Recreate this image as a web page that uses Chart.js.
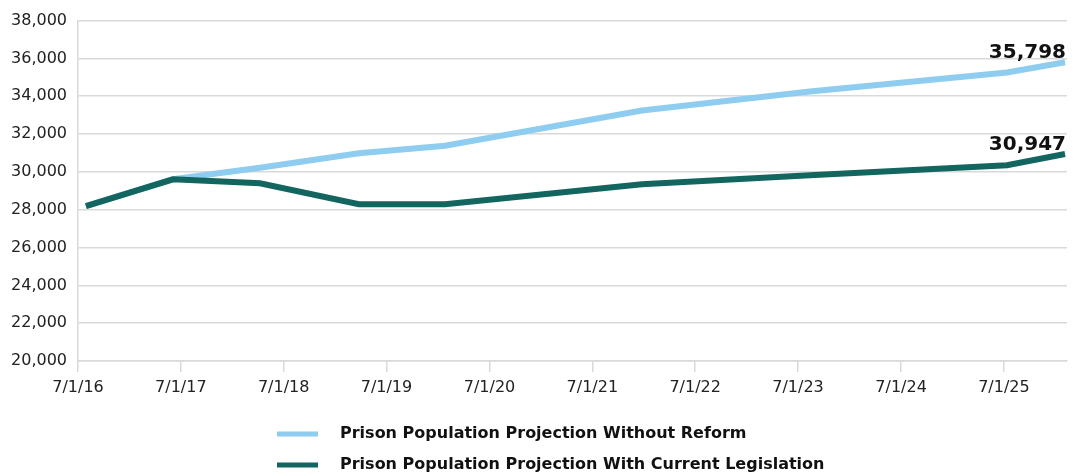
<!DOCTYPE html>
<html>
<head>
<meta charset="utf-8">
<script src="https://cdn.jsdelivr.net/npm/chart.js@4.4.1/dist/chart.umd.min.js"></script>
<style>
  html, body { margin: 0; padding: 0; background: #ffffff; }
  canvas { display: block; }
</style>
</head>
<body>
<canvas id="chart" width="1078" height="472"></canvas>
<script>
// Axis tick labels (dates, M/D/YY)
const tickLabels = ['7/1/16', '7/1/17', '7/1/18', '7/1/19', '7/1/20', '7/1/21', '7/1/22', '7/1/23', '7/1/24', '7/1/25'];

// Dates of the projection points
const pointDates = ['2016-07-29', '2017-06-03', '2018-04-08', '2019-03-25', '2020-01-25', '2021-12-24', '2023-08-12', '2025-07-12', '2026-02-03'];

// Projected prison population
const withoutReform      = [28190, 29610, 30220, 30980, 31380, 33250, 34250, 35260, 35798];
const currentLegislation = [28190, 29610, 29400, 28290, 28290, 29350, 29820, 30350, 30947];

const seriesNames = ['Prison Population Projection Without Reform', 'Prison Population Projection With Current Legislation'];
const axisStartLabel = '7/1/16';
const axisEndDate = '2026-02-10';

const DAY = 86400000;
function labelToUTC(s) { const [m, d, y] = s.split('/').map(Number); return Date.UTC(2000 + y, m - 1, d); }
function isoToUTC(s) { const [y, m, d] = s.split('-').map(Number); return Date.UTC(y, m - 1, d); }
const origin = labelToUTC(axisStartLabel);
const toDays = t => (t - origin) / DAY;
const tickDays = tickLabels.map(l => toDays(labelToUTC(l)));
const pointDays = pointDates.map(d => toDays(isoToUTC(d)));

const fmt = v => Number(v).toLocaleString('en-US');
const GRID = '#d9d9d9';
const TICK_FONT = { family: '"DejaVu Sans", sans-serif', size: 16 };

// Bold value label above the last point of each line
const endLabels = {
  id: 'endLabels',
  afterDatasetsDraw(chart) {
    const ctx = chart.ctx;
    ctx.save();
    ctx.font = 'bold 20px "DejaVu Sans", sans-serif';
    ctx.fillStyle = '#111111';
    ctx.textAlign = 'right';
    ctx.textBaseline = 'alphabetic';
    chart.data.datasets.forEach((ds, i) => {
      const meta = chart.getDatasetMeta(i);
      const last = meta.data[meta.data.length - 1];
      const value = ds.data[ds.data.length - 1].y;
      ctx.fillText(fmt(value), last.x + 1, last.y - 4);
    });
    ctx.restore();
  }
};

// Two-row legend under the plot
const stackedLegend = {
  id: 'stackedLegend',
  afterDraw(chart) {
    const ctx = chart.ctx;
    const left = 277;
    const rows = [434, 465];
    ctx.save();
    ctx.font = 'bold 16px "DejaVu Sans", sans-serif';
    ctx.textBaseline = 'middle';
    ctx.textAlign = 'left';
    chart.data.datasets.forEach((ds, i) => {
      const y = rows[i];
      ctx.fillStyle = ds.borderColor;
      ctx.fillRect(left, y - 2.5, 41, 5);
      ctx.fillStyle = '#111111';
      ctx.fillText(ds.label, left + 63, y);
    });
    ctx.restore();
  }
};

const toPoints = values => values.map((v, i) => ({ x: pointDays[i], y: v }));

new Chart(document.getElementById('chart'), {
  type: 'line',
  data: {
    datasets: [
      {
        label: seriesNames[0],
        data: toPoints(withoutReform),
        borderColor: '#8ecdf0',
        backgroundColor: '#8ecdf0',
        borderWidth: 6,
        pointRadius: 0,
        tension: 0,
        order: 1
      },
      {
        label: seriesNames[1],
        data: toPoints(currentLegislation),
        borderColor: '#13665f',
        backgroundColor: '#13665f',
        borderWidth: 6,
        pointRadius: 0,
        tension: 0,
        order: 0
      }
    ]
  },
  options: {
    responsive: false,
    animation: false,
    events: [],
    layout: { padding: { left: 0, right: 11, top: 20, bottom: 71 } },
    plugins: {
      legend: { display: false },
      tooltip: { enabled: false }
    },
    scales: {
      x: {
        type: 'linear',
        min: 0,
        max: toDays(isoToUTC(axisEndDate)),
        afterBuildTicks: scale => { scale.ticks = tickDays.map(v => ({ value: v })); },
        afterFit: scale => { scale.height = 40; },
        ticks: {
          autoSkip: false,
          maxRotation: 0,
          includeBounds: false,
          padding: 6,
          color: '#222222',
          font: TICK_FONT,
          callback: (v, i) => tickLabels[i]
        },
        grid: { drawOnChartArea: false, drawTicks: true, tickLength: 11, color: GRID, lineWidth: 1.5 },
        border: { display: true, color: GRID, width: 1.5 }
      },
      y: {
        min: 20000,
        max: 38000,
        afterFit: scale => { scale.width = 78; },
        ticks: {
          stepSize: 2000,
          padding: 11,
          color: '#222222',
          font: TICK_FONT,
          callback: v => fmt(v)
        },
        grid: { drawTicks: false, color: GRID, lineWidth: 1.5 },
        border: { display: true, color: GRID, width: 1.5 }
      }
    }
  },
  plugins: [endLabels, stackedLegend]
});
</script>
</body>
</html>
